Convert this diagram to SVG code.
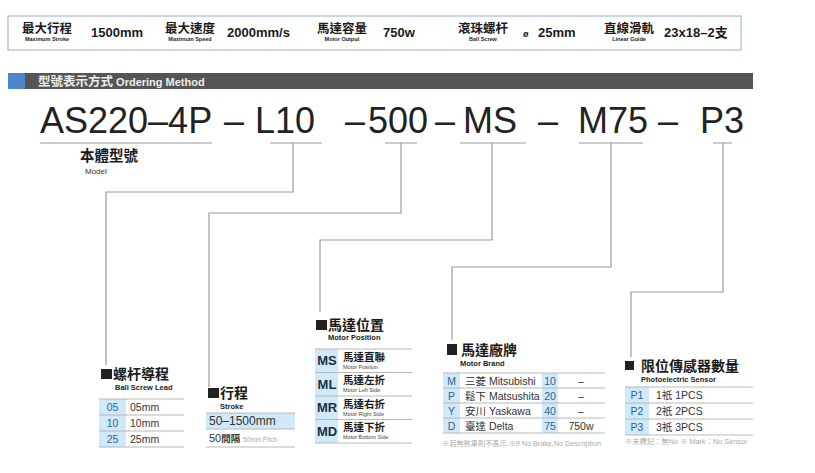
<svg xmlns="http://www.w3.org/2000/svg" width="815" height="473" viewBox="0 0 815 473">
<style>
text{font-family:"Liberation Sans","Noto Sans CJK TC",sans-serif;}
.cj{font-family:"Noto Sans CJK TC","Liberation Sans",sans-serif;font-weight:bold;fill:#1a1a1a;}
.lbl{font-size:12.5px;}
.sub{font-size:5.5px;font-weight:bold;fill:#222;text-anchor:middle;}
.val{font-size:13px;font-weight:bold;fill:#1a1a1a;}
.code{font-size:36px;fill:#222;}
.ul{stroke:#9a9a9a;stroke-width:1;fill:none;}
.conn{stroke:#9a9a9a;stroke-width:1.2;fill:none;}
.sq{fill:#222;}
.h{font-size:14px;}
.eh{font-size:7.5px;font-weight:bold;fill:#222;}
.bl{fill:#cfe9f8;}
.rl{stroke:#b8b8b8;stroke-width:1;}
.c{font-size:10.5px;fill:#2d6396;text-anchor:middle;}
.t{font-size:10.5px;fill:#333;}
.mc{font-size:13px;font-weight:bold;fill:#1d2d44;text-anchor:middle;}
.md{font-size:10.5px;}
.ms{font-size:5.5px;fill:#444;}
.fn{fill:#aaa;}
</style>

<g id="spec-bar">
<rect x="8" y="16" width="733" height="34" fill="#fff" stroke="#93acd6" stroke-width="1"/>
<text class="cj lbl" x="22" y="33">最大行程</text>
<text class="sub" x="47" y="41">Maximum Stroke</text>
<text class="val" x="91" y="37">1500mm</text>
<text class="cj lbl" x="165" y="33">最大速度</text>
<text class="sub" x="190" y="41">Maximum Speed</text>
<text class="val" x="227" y="37">2000mm/s</text>
<text class="cj lbl" x="317" y="33">馬達容量</text>
<text class="sub" x="342" y="41">Motor Output</text>
<text class="val" x="383" y="37">750w</text>
<text class="cj lbl" x="458" y="33">滾珠螺杆</text>
<text class="sub" x="483" y="41">Ball Screw</text>
<text x="523" y="37" style="font-size:9px;font-weight:bold;fill:#1a1a1a">ø</text>
<text class="val" x="538" y="37">25mm</text>
<text class="cj lbl" x="604" y="33">直線滑軌</text>
<text class="sub" x="629" y="41">Linear Guide</text>
<text class="val" x="664" y="37">23x18–2<tspan style="font-family:'Noto Sans CJK TC',sans-serif">支</tspan></text>
</g>

<g id="section-header">
<rect x="8" y="73" width="745" height="16" fill="#555"/>
<rect x="8" y="73" width="17" height="16" fill="#4a86c8"/>
<text x="38" y="85.5" style="font-size:11px;font-weight:bold;fill:#eee"><tspan style="font-family:'Noto Sans CJK TC',sans-serif;font-size:12.5px">型號表示方式</tspan> Ordering Method</text>
</g>

<g id="model-code">
<text class="code" x="40" y="133">AS220–4P</text>
<text class="code" x="224" y="133">–</text>
<text class="code" x="255" y="133">L10</text>
<text class="code" x="345" y="133">–</text>
<text class="code" x="368" y="133">500</text>
<text class="code" x="435" y="133">–</text>
<text class="code" x="463" y="133">MS</text>
<text class="code" x="538" y="133">–</text>
<text class="code" x="578" y="133">M75</text>
<text class="code" x="658" y="133">–</text>
<text class="code" x="700" y="133">P3</text>
<line class="ul" x1="40" y1="143" x2="212" y2="143"/>
<line class="ul" x1="270" y1="143" x2="322" y2="143"/>
<line class="ul" x1="385" y1="143" x2="417" y2="143"/>
<line class="ul" x1="460" y1="143" x2="526" y2="143"/>
<line class="ul" x1="579" y1="143" x2="643" y2="143"/>
<line class="ul" x1="713" y1="143" x2="732" y2="143"/>
</g>

<g id="model-label">
<text class="cj" x="80" y="161" style="font-size:14.5px">本體型號</text>
<text x="85" y="173.5" style="font-size:8px;fill:#333">Model</text>
</g>

<g id="connectors">
<polyline class="conn" points="293,143 293,192 106,192 106,365"/>
<polyline class="conn" points="401,143 401,213 209,213 209,387"/>
<polyline class="conn" points="492,143 492,240 320,240 320,312"/>
<polyline class="conn" points="611,143 611,267 452,267 452,340"/>
<polyline class="conn" points="723,143 723,292 631,292 631,357"/>
</g>

<g id="ball-screw-lead">
<rect class="sq" x="101" y="369" width="11" height="10"/>
<text class="cj h" x="113" y="378.5">螺杆導程</text>
<text class="eh" x="115" y="390">Ball Screw Lead</text>
<rect class="bl" x="99" y="399" width="27" height="48"/>
<line class="rl" x1="99" y1="399" x2="184" y2="399"/>
<line class="rl" x1="99" y1="415" x2="184" y2="415"/>
<line class="rl" x1="99" y1="431" x2="184" y2="431"/>
<line class="rl" x1="99" y1="447" x2="184" y2="447"/>
<text class="c" x="112.5" y="411">05</text>
<text class="t" x="130" y="411">05mm</text>
<text class="c" x="112.5" y="427">10</text>
<text class="t" x="130" y="427">10mm</text>
<text class="c" x="112.5" y="443">25</text>
<text class="t" x="130" y="443">25mm</text>
</g>

<g id="stroke">
<rect class="sq" x="208" y="388" width="11" height="10"/>
<text class="cj h" x="220" y="397.5">行程</text>
<text class="eh" x="220" y="408.5">Stroke</text>
<rect class="bl" x="206" y="413" width="89" height="16"/>
<line class="rl" x1="206" y1="413" x2="295" y2="413"/>
<line class="rl" x1="206" y1="429" x2="295" y2="429"/>
<line class="rl" x1="206" y1="447" x2="295" y2="447"/>
<text x="209" y="425" style="font-size:12px;fill:#333">50–1500mm</text>
<text x="209" y="442" style="font-size:11px;fill:#333">50<tspan style="font-family:'Noto Sans CJK TC',sans-serif;font-weight:bold;font-size:9.5px">間隔</tspan></text>
<text x="243" y="442" style="font-size:6.5px;fill:#aaa">50mm Pitch</text>
</g>

<g id="motor-position">
<rect class="sq" x="316" y="320" width="11" height="10"/>
<text class="cj h" x="328" y="329.5">馬達位置</text>
<text class="eh" x="328" y="340">Motor Position</text>
<rect class="bl" x="315" y="349" width="23" height="94"/>
<line class="rl" x1="315" y1="349" x2="412" y2="349"/>
<line class="rl" x1="315" y1="372.5" x2="412" y2="372.5"/>
<line class="rl" x1="315" y1="396" x2="412" y2="396"/>
<line class="rl" x1="315" y1="419.5" x2="412" y2="419.5"/>
<line class="rl" x1="315" y1="443" x2="412" y2="443"/>
<text class="mc" x="327" y="365">MS</text>
<text class="cj md" x="343" y="360.5">馬達直聯</text>
<text class="ms" x="343" y="368.5">Motor Position</text>
<text class="mc" x="327" y="388.5">ML</text>
<text class="cj md" x="343" y="384">馬達左折</text>
<text class="ms" x="343" y="392">Motor Left Side</text>
<text class="mc" x="327" y="412">MR</text>
<text class="cj md" x="343" y="407.5">馬達右折</text>
<text class="ms" x="343" y="415.5">Motor Right Side</text>
<text class="mc" x="327" y="435.5">MD</text>
<text class="cj md" x="343" y="431">馬達下折</text>
<text class="ms" x="343" y="439">Motor Bottom Side</text>
</g>

<g id="motor-brand">
<rect class="sq" x="447" y="344" width="10" height="11"/>
<text class="cj h" x="461" y="355">馬達廠牌</text>
<text class="eh" x="460" y="365.5">Motor Brand</text>
<rect class="bl" x="443" y="373" width="17" height="60"/>
<rect class="bl" x="542" y="373" width="16" height="60"/>
<line class="rl" x1="443" y1="373" x2="605" y2="373"/>
<line class="rl" x1="443" y1="388" x2="605" y2="388"/>
<line class="rl" x1="443" y1="403" x2="605" y2="403"/>
<line class="rl" x1="443" y1="418" x2="605" y2="418"/>
<line class="rl" x1="443" y1="433" x2="605" y2="433"/>
<text class="c" x="451.5" y="384.5">M</text>
<text class="t" x="465" y="384.5">三菱 Mitsubishi</text>
<text class="c" x="550" y="384.5">10</text>
<text class="t" x="581" y="384.5" text-anchor="middle">–</text>
<text class="c" x="451.5" y="399.5">P</text>
<text class="t" x="465" y="399.5">鬆下 Matsushita</text>
<text class="c" x="550" y="399.5">20</text>
<text class="t" x="581" y="399.5" text-anchor="middle">–</text>
<text class="c" x="451.5" y="414.5">Y</text>
<text class="t" x="465" y="414.5">安川 Yaskawa</text>
<text class="c" x="550" y="414.5">40</text>
<text class="t" x="581" y="414.5" text-anchor="middle">–</text>
<text class="c" x="451.5" y="429.5">D</text>
<text class="t" x="465" y="429.5">臺達 Delta</text>
<text class="c" x="550" y="429.5">75</text>
<text class="t" x="581" y="429.5" text-anchor="middle">750w</text>
<text class="fn" x="442" y="446" style="font-size:7.2px">※若無煞車則不表示.※If No Brake,No Description</text>
</g>

<g id="sensor">
<rect class="sq" x="625" y="361" width="9" height="9"/>
<text class="cj h" x="641" y="370.5">限位傳感器數量</text>
<text class="eh" x="641" y="381.5">Photoelectric Sensor</text>
<rect class="bl" x="625" y="387" width="24" height="48"/>
<line class="rl" x1="625" y1="387" x2="753" y2="387"/>
<line class="rl" x1="625" y1="403" x2="753" y2="403"/>
<line class="rl" x1="625" y1="419" x2="753" y2="419"/>
<line class="rl" x1="625" y1="435" x2="753" y2="435"/>
<text class="c" x="637" y="399">P1</text>
<text class="t" x="656" y="399">1祇 1PCS</text>
<text class="c" x="637" y="415">P2</text>
<text class="t" x="656" y="415">2祇 2PCS</text>
<text class="c" x="637" y="431">P3</text>
<text class="t" x="656" y="431">3祇 3PCS</text>
<text class="fn" x="625" y="443.5" style="font-size:7.3px">※未標記：無No ※ Mark：No Sensor</text>
</g>
</svg>
